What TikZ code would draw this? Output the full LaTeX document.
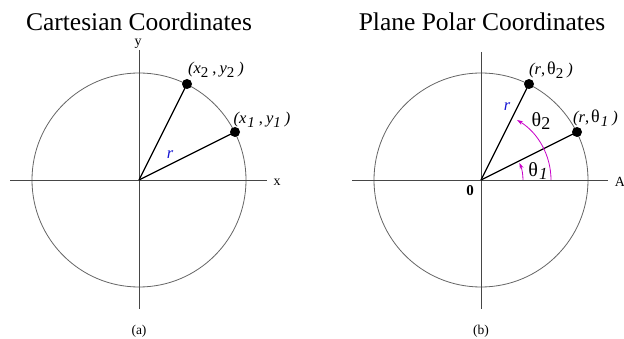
\documentclass[tikz,border=0pt]{standalone}
\usepackage{fontspec}
\setmainfont{Liberation Serif}
\usetikzlibrary{arrows.meta}
\definecolor{axisgray}{RGB}{70,70,70}
\definecolor{circgray}{RGB}{100,100,100}
\definecolor{rblue}{RGB}{20,20,210}
\definecolor{angmag}{RGB}{200,0,200}
\newcommand{\lsub}[1]{\raisebox{-3.5pt}{\fontsize{15}{15}\selectfont #1}}
\newcommand{\thsym}{{\upshape\fontsize{18}{18}\selectfont θ}}
\begin{document}
\begin{tikzpicture}[x=1pt,y=1pt,
  axisline/.style={draw=axisgray,line width=0.8pt},
  circline/.style={draw=circgray,line width=0.8pt},
  radius line/.style={draw=black,line width=1.3pt},
  dotnode/.style={circle,fill=black,inner sep=0pt,minimum size=10pt},
  titletext/.style={font=\fontsize{25.5}{28}\selectfont},
  ptlabel/.style={font=\fontsize{16.5}{18}\selectfont\itshape,inner sep=0pt},
  axlabel/.style={font=\fontsize{14}{16}\selectfont,inner sep=0pt},
  caplabel/.style={font=\fontsize{13.5}{15}\selectfont,inner sep=0pt},
  angarrow/.style={draw=angmag,line width=0.8pt,-{Stealth[length=6pt,width=4pt]}}]
\useasboundingbox (0,0) rectangle (624,-339);
% ---------- (a) Cartesian ----------
\node[titletext] (t1) at (139,-22) {Cartesian Coordinates};
\coordinate (O1) at (139,-180);
\coordinate (xl1) at (10,-180);
\coordinate (xr1) at (267,-180);
\coordinate (yt1) at (139,-50);
\coordinate (yb1) at (139,-309);
\draw[circline] (O1) circle (107pt);
\draw[axisline] (xl1) -- (xr1);
\draw[axisline] (yt1) -- (yb1);
\node[axlabel] (xlab) at (277,-182) {x};
\node[axlabel] (ylab) at (138,-44) {y};
\node[dotnode] (P1) at (235,-132) {};
\node[dotnode] (P2) at (187,-84) {};
\draw[radius line] (O1) -- (P1.center);
\draw[radius line] (O1) -- (P2.center);
\node[ptlabel] (l2) at (216,-70) {(x\lsub{\upshape 2}\hspace{4pt}{\upshape ,}\hspace{3pt}y\lsub{\upshape 2}\hspace{4pt})};
\node[ptlabel] (l1) at (262,-120) {(x\hspace{1pt}\lsub{\itshape 1}\hspace{4pt}{\upshape ,}\hspace{3pt}y\lsub{\itshape 1}\hspace{4pt})};
\node[ptlabel,text=rblue] (r1) at (170,-155) {r};
\node[caplabel] (ca) at (139,-331) {(a)};
% ---------- (b) Polar ----------
\node[titletext] (t2) at (482,-22) {Plane Polar Coordinates};
\coordinate (O2) at (481,-180);
\coordinate (xl2) at (352,-180);
\coordinate (xr2) at (608,-180);
\coordinate (yt2) at (481,-52);
\coordinate (yb2) at (481,-309);
\draw[circline] (O2) circle (107pt);
\draw[axisline] (xl2) -- (xr2);
\draw[axisline] (yt2) -- (yb2);
\node[axlabel] (Alab) at (620,-182) {A};
\node[axlabel,font=\fontsize{15}{16}\selectfont\bfseries] (zero) at (470,-191) {0};
\node[dotnode] (Q1) at (577,-132) {};
\node[dotnode] (Q2) at (529,-84) {};
\draw[radius line] (O2) -- (Q1.center);
\draw[radius line] (O2) -- (Q2.center);
\draw[angarrow] ([shift={(0:42pt)}]O2) arc (0:24:42pt);
\draw[angarrow] ([shift={(0:70pt)}]O2) arc (0:59:70pt);
\node[font=\fontsize{20}{21}\selectfont,inner sep=0pt] (th2) at (541,-121) {θ\lsub{\fontsize{18}{18}\selectfont 2}};
\node[font=\fontsize{20}{21}\selectfont,inner sep=0pt] (th1) at (538,-171) {θ\hspace{1pt}\lsub{\fontsize{17}{17}\selectfont\itshape 1}};
\node[ptlabel,text=rblue] (r2) at (507,-107) {r};
\node[ptlabel] (m2) at (551,-70) {(r{\upshape ,}\hspace{2pt}\thsym\lsub{\upshape 2}\hspace{4pt})};
\node[ptlabel,anchor=west] (m1) at (573,-118) {(r{\upshape ,}\hspace{2pt}\thsym\hspace{1pt}\lsub{\itshape 1}\hspace{4pt})};
\node[caplabel] (cb) at (481,-331) {(b)};
\end{tikzpicture}
\end{document}
